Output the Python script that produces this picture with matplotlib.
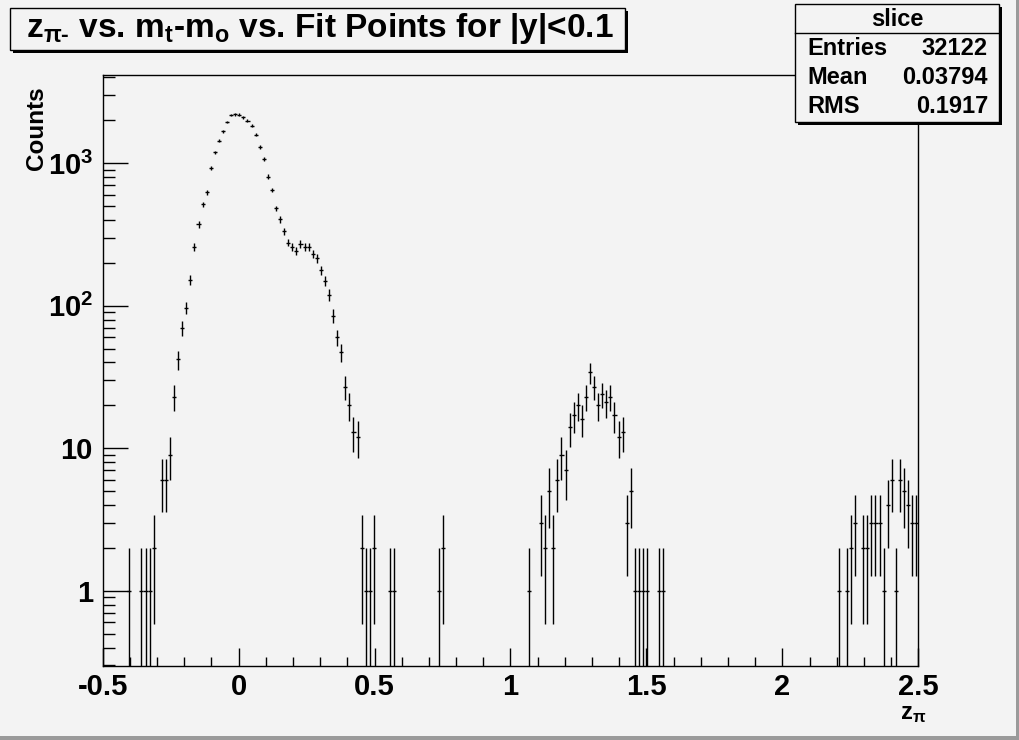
import numpy as np
import matplotlib.pyplot as plt
from matplotlib.patches import Rectangle
from matplotlib.lines import Line2D
from matplotlib.ticker import FixedLocator, FixedFormatter, LogLocator, MultipleLocator, NullFormatter

plt.rcParams['font.family'] = ['Liberation Sans', 'DejaVu Sans']
plt.rcParams['font.weight'] = 'bold'
plt.rcParams['mathtext.fontset'] = 'custom'
plt.rcParams['mathtext.rm'] = 'Liberation Sans:bold'
plt.rcParams['mathtext.bf'] = 'Liberation Sans:bold'
plt.rcParams['mathtext.it'] = 'Liberation Sans:bold'
plt.rcParams['mathtext.default'] = 'regular'

# histogram: 200 bins from -0.5 to 2.5, only the filled bins listed
x_min = -0.5
bin_width = 0.015
bins = [6, 9, 10, 11, 12, 14, 15, 16, 17, 18, 19, 20,
        21, 22, 23, 24, 25, 26, 27, 28, 29, 30,
        31, 32, 33, 34, 35, 36, 37, 38, 39, 40,
        41, 42, 43, 44, 45, 46, 47, 48, 49, 50,
        51, 52, 53, 54, 55, 56, 57, 58, 59, 60,
        61, 62, 63, 64, 65, 66, 70, 71, 82, 83,
        104, 107, 108, 109, 110, 111, 112, 113, 114, 115,
        116, 117, 118, 119, 120, 121, 122, 123, 124, 125,
        126, 127, 128, 129, 130, 131, 132, 133, 136, 137,
        180, 182, 183, 184, 186, 187, 188, 189, 190, 191,
        192, 193, 194, 195, 196, 197, 198, 199]
counts = [1, 1, 1, 1, 2, 6, 6, 9, 23, 42, 70, 97,
          152, 259, 372, 514, 624, 918, 1191, 1436, 1679, 1941,
          2180, 2200, 2190, 2094, 1983, 1829, 1582, 1297, 1064, 804,
          648, 482, 403, 334, 277, 257, 243, 271, 257, 257,
          231, 215, 178, 149, 119, 85, 60, 47, 27, 20,
          13, 12, 2, 1, 1, 2, 1, 1, 1, 2,
          1, 3, 2, 5, 2, 6, 9, 7, 14, 17,
          20, 16, 23, 34, 27, 20, 24, 21, 23, 17,
          12, 13, 3, 5, 1, 1, 1, 1, 1, 1,
          1, 1, 2, 3, 2, 2, 3, 3, 3, 1,
          4, 6, 1, 6, 5, 4, 3, 3]

x_ticks = [-0.5, 0, 0.5, 1, 1.5, 2, 2.5]
x_tick_labels = ['-0.5', '0', '0.5', '1', '1.5', '2', '2.5']
y_ticks = [1, 10, 100, 1000]
y_tick_labels = ['1', '10', '$10^{2}$', '$10^{3}$']

title_text = r'z$_{\pi\text{-}}$ vs. m$_{t}$-m$_{o}$ vs. Fit Points for |y|<0.1'
stats_name = 'slice'
stats_labels = ['Entries', 'Mean', 'RMS']
stats_values = ['32122', '0.03794', '0.1917']

W, H = 1020, 740
bg = '#f3f3f3'


def fx(x):
    return x / W


def fy(y):
    return 1 - y / H


def box(fig, x0, y0, x1, y1):
    # ROOT-style pave with a shadow on the right and bottom
    fig.patches.append(Rectangle((fx(x0 + 3), fy(y1 + 3)), fx(x1 - x0), (y1 - y0) / H,
                                 transform=fig.transFigure, facecolor='black',
                                 edgecolor='none', zorder=5))
    fig.patches.append(Rectangle((fx(x0), fy(y1)), fx(x1 - x0), (y1 - y0) / H,
                                 transform=fig.transFigure, facecolor=bg,
                                 edgecolor='black', linewidth=1.0, zorder=6))


fig = plt.figure(figsize=(W / 100, H / 100), dpi=100, facecolor=bg)
ax = fig.add_axes([fx(102.7), fy(666), fx(918.3 - 102.7), (666 - 75) / H])
ax.set_facecolor(bg)

centers = x_min + bin_width * (np.array(bins) + 0.5)
n = np.array(counts, dtype=float)
err = np.sqrt(n)
low = n - np.maximum(n - err, 1e-3)

ax.set_yscale('log')
ax.errorbar(centers, n, xerr=bin_width / 2, yerr=[low, err], fmt='none',
            ecolor='black', elinewidth=1.0, capsize=0)

ax.set_xlim(-0.5, 2.5)
ax.set_ylim(0.297, 4150)

ax.xaxis.set_major_locator(FixedLocator(x_ticks))
ax.xaxis.set_major_formatter(FixedFormatter(x_tick_labels))
ax.xaxis.set_minor_locator(MultipleLocator(0.1))
ax.yaxis.set_major_locator(FixedLocator(y_ticks))
ax.yaxis.set_major_formatter(FixedFormatter(y_tick_labels))
ax.yaxis.set_minor_locator(LogLocator(base=10, subs=np.arange(2, 10)))
ax.yaxis.set_minor_formatter(NullFormatter())

ax.tick_params(axis='both', which='both', direction='in', width=1.0,
               top=False, right=False, labelsize=21)
ax.tick_params(axis='x', which='major', length=13, pad=5)
ax.tick_params(axis='x', which='minor', length=6.5)
ax.tick_params(axis='y', which='major', length=18, pad=7)
ax.tick_params(axis='y', which='minor', length=8.6)
for s in ax.spines.values():
    s.set_linewidth(1.0)

fig.text(fx(37), fy(86), 'Counts', rotation=90, ha='center', va='top', fontsize=17.5)
fig.text(fx(926), fy(702), r'z$_{\pi}$', ha='right', va='top', fontsize=17)

# title pave
box(fig, 10, 8, 625, 50)
fig.text(fx(320), fy(29), title_text, ha='center', va='center', fontsize=24, zorder=7)

# stats pave
box(fig, 795, 4, 999, 122)
fig.lines.append(Line2D([fx(795), fx(999)], [fy(33), fy(33)], transform=fig.transFigure,
                        color='black', linewidth=1.0, zorder=7))
fig.text(fx(897), fy(19), stats_name, ha='center', va='center', fontsize=17, zorder=7)
for i, (lab, val) in enumerate(zip(stats_labels, stats_values)):
    yy = fy(48.5 + 29 * i)
    fig.text(fx(807), yy, lab, ha='left', va='center', fontsize=17, zorder=7)
    fig.text(fx(988), yy, val, ha='right', va='center', fontsize=17, zorder=7)

# canvas bevel
fig.patches.append(Rectangle((fx(1016), 0), fx(4), 1, transform=fig.transFigure,
                             facecolor='#9a9a9a', edgecolor='none'))
fig.patches.append(Rectangle((0, 0), 1, 4 / H, transform=fig.transFigure,
                             facecolor='#9a9a9a', edgecolor='none'))

fig.savefig('out.png', dpi=100, facecolor=bg)
